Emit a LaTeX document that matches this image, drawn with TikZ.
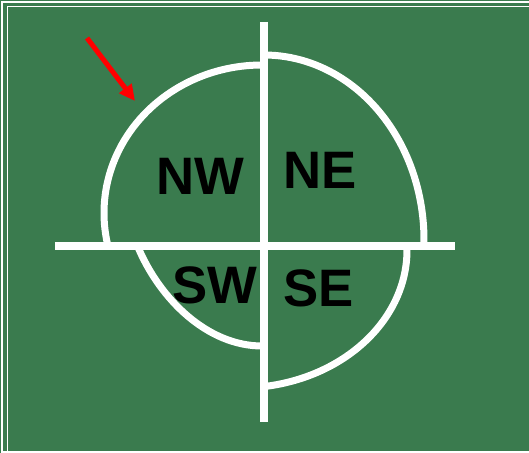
\documentclass[tikz,border=0pt]{standalone}
\usepackage{fontspec}
\setmainfont{Liberation Sans}
\usepackage{tikz}
\usetikzlibrary{arrows.meta}
\definecolor{board}{RGB}{58,123,78}
\definecolor{pointer}{RGB}{255,0,0}

\begin{document}
\begin{tikzpicture}[x=0.02cm, y=-0.02cm,
  quad/.style={font=\fontsize{30}{32}\selectfont\bfseries, inner sep=0pt},
  wline/.style={white, line width=0.145cm},
  warc/.style={white, line width=0.14cm}]
\fill[board] (0,0) rectangle (529,453);
\useasboundingbox (0,0) rectangle (529,453);

% frame
\draw[white, line width=0.6pt] (2,2) rectangle (560,452);
\draw[white, line width=0.9pt] (7.5,6.5) rectangle (560,470);

% quarter arcs
\draw[warc] (262,65) arc[start angle=-90, end angle=-193, x radius=158, y radius=148];
\draw[warc] (264,55) arc[start angle=-90, end angle=2, x radius=160, y radius=185];
\draw[warc] (406.9,245.2) arc[start angle=-2, end angle=82, x radius=167, y radius=138];
\draw[warc] (137.5,246) .. controls (160,300) and (208,346) .. (262,346);

% cross
\coordinate (north) at (264,22);
\coordinate (south) at (264,422);
\coordinate (west) at (55,246);
\coordinate (east) at (455,246);
\draw[wline] (north) -- (south);
\draw[wline] (west) -- (east);

\node[quad] (nw) at (200.5,176) {NW};
\node[quad] (ne) at (320,170.5) {NE};
\node[quad] (sw) at (214.5,285) {SW};
\node[quad] (se) at (318.5,288) {SE};

% pointer
\coordinate (tail) at (87,38);
\coordinate (tip) at (135,101);
\draw[pointer, line width=0.1cm, -{Triangle[length=0.32cm, width=0.3cm]}] (tail) -- (tip);
\end{tikzpicture}
\end{document}
